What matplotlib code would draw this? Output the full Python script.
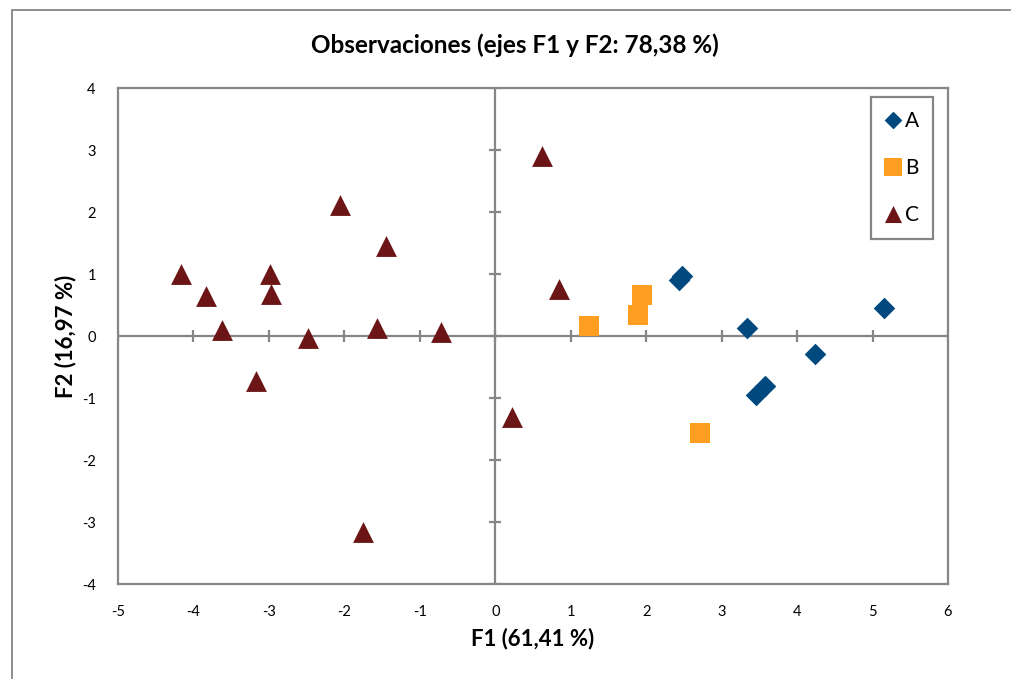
import matplotlib
matplotlib.use("Agg")
import matplotlib.pyplot as plt
from matplotlib.patches import Rectangle

# Observation scores on the first two factors, by group
a_f1 = [2.47, 2.43, 3.34, 4.24, 5.15, 3.46, 3.58]
a_f2 = [0.96, 0.91, 0.13, -0.29, 0.45, -0.95, -0.81]

b_f1 = [1.24, 1.95, 1.89, 2.71]
b_f2 = [0.16, 0.66, 0.34, -1.56]

c_f1 = [-4.17, -3.84, -3.62, -2.98, -2.97, -3.17, -2.48, -2.06, -1.45,
        -1.57, -0.72, -1.75, 0.62, 0.85, 0.22]
c_f2 = [1.00, 0.65, 0.10, 1.00, 0.68, -0.73, -0.03, 2.11, 1.45,
        0.13, 0.06, -3.16, 2.91, 0.76, -1.31]

x_ticks = list(range(-5, 7))
y_ticks = list(range(-4, 5))

title = "Observaciones (ejes F1 y F2: 78,38 %)"
x_label = "F1 (61,41 %)"
y_label = "F2 (16,97 %)"

plt.rcParams['font.family'] = ['Lato', 'DejaVu Sans']
plt.rcParams['axes.unicode_minus'] = False
grey = "#868686"

fig = plt.figure(figsize=(10.11, 6.79), dpi=100)
ax = fig.add_axes([118 / 1011, 95 / 679, 830 / 1011, 496 / 679])

# outer chart border (runs off the right and bottom edges)
fig.patches.append(Rectangle((12 / 1011, -0.1), 1.2, 0.1 + 669 / 679,
                             transform=fig.transFigure, fill=False,
                             edgecolor=grey, linewidth=1.3))

# axes crossing at the origin, with cross ticks
ax.axhline(0, color=grey, lw=1.6, zorder=1)
ax.axvline(0, color=grey, lw=1.6, zorder=1)
ax.plot(x_ticks, [0] * len(x_ticks), ls="none", marker="|", ms=8,
        mew=1.6, color=grey, zorder=1)
ax.plot([0] * len(y_ticks), y_ticks, ls="none", marker="_", ms=8,
        mew=1.6, color=grey, zorder=1)

ax.scatter(a_f1, a_f2, marker="D", s=11 ** 2, color="#00497F",
           linewidths=0, label="A", zorder=3)
ax.scatter(b_f1, b_f2, marker="s", s=15 ** 2, color="#FF9E20",
           linewidths=0, label="B", zorder=3)
ax.scatter(c_f1, c_f2, marker="^", s=15 ** 2, color="#6B1517",
           linewidths=0, label="C", zorder=3)

ax.set_xlim(-5, 6)
ax.set_ylim(-4, 4)
ax.set_xticks(x_ticks)
ax.set_yticks(y_ticks)
ax.tick_params(length=0, labelsize=10.5, pad=15)
ax.tick_params(axis="y", pad=16)
for s in ax.spines.values():
    s.set_color(grey)
    s.set_linewidth(1.6)

# title centred over the whole chart area
fig.text(515 / 1011, 1 - 45 / 679, title, fontsize=17.5, fontweight="bold",
         ha="center", va="center")
ax.set_xlabel(x_label, fontsize=16, fontweight="bold", labelpad=6)
ax.set_ylabel(y_label, fontsize=16, fontweight="bold", labelpad=4)

leg = ax.legend(loc="upper right", bbox_to_anchor=(0.982, 0.981),
                fancybox=False, edgecolor=grey, framealpha=1,
                fontsize=15, markerscale=0.82, handlelength=0.8,
                handletextpad=0.2, labelspacing=1.3, borderpad=0.65,
                borderaxespad=0, scatteryoffsets=[0.5])
leg.get_frame().set_linewidth(1.6)

plt.savefig("out.png", dpi=100)
